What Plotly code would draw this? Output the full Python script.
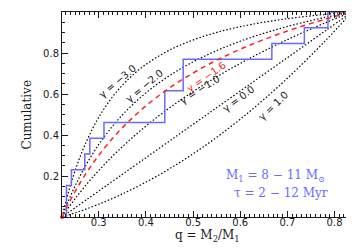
import numpy as np
import plotly.graph_objects as go

# ---- data ----
q_grid = [0.222, 0.235, 0.25, 0.27, 0.30, 0.34, 0.39, 0.45, 0.52, 0.60, 0.69, 0.78, 0.837]
cum_g_m3 = [0, 0.1157, 0.2275, 0.3485, 0.4866, 0.6171, 0.7271, 0.8139, 0.8796, 0.9284, 0.9643, 0.9885, 1]
cum_g_m2 = [0, 0.0753, 0.1524, 0.2420, 0.3539, 0.4723, 0.5863, 0.6896, 0.7800, 0.8574, 0.9231, 0.9736, 1]
cum_g_m1 = [0, 0.0429, 0.0895, 0.1475, 0.2269, 0.3212, 0.4246, 0.5324, 0.6413, 0.7492, 0.8545, 0.9469, 1]
cum_g_0 = [0, 0.0211, 0.0455, 0.0780, 0.1268, 0.1919, 0.2732, 0.3707, 0.4846, 0.6146, 0.7610, 0.9073, 1]
cum_g_p1 = [0, 0.0091, 0.0203, 0.0363, 0.0625, 0.1018, 0.1579, 0.2353, 0.3395, 0.4771, 0.6554, 0.8585, 1]
cum_g_fit = [0, 0.0612, 0.1253, 0.2019, 0.3011, 0.4111, 0.5225, 0.6294, 0.7285, 0.8184, 0.8991, 0.9645, 1]

q_obs = [0.2314, 0.2314, 0.242, 0.2703, 0.281, 0.311, 0.440, 0.440,
         0.479, 0.479, 0.667, 0.736, 0.786]

model_labels = ["γ = −3.0", "γ = −2.0", "γ = −1.0", "γ = 0.0", "γ = 1.0"]
fit_label = "γ = −1.6"
label_q = [0.339, 0.398, 0.514, 0.597, 0.671]
label_c = [0.662, 0.640, 0.624, 0.579, 0.543]
label_ang = [-40, -40, -32, -37, -44]
fit_label_q, fit_label_c, fit_label_ang = 0.529, 0.683, -35

info_lines = ["M<sub>1</sub> = 8 − 11 M<sub>⊙</sub>", "τ = 2 − 12 Myr"]
info_q = [0.6745, 0.6865]
info_c = [0.200, 0.118]

x_range = [0.222, 0.837]
y_range = [0.0, 1.0]

BLUE = "#6a6aff"
RED = "#ff2424"
INK = "#1a1a1a"

fig = go.Figure()

for cum in [cum_g_m3, cum_g_m2, cum_g_m1, cum_g_0, cum_g_p1]:
    fig.add_trace(go.Scatter(x=q_grid, y=cum, mode="lines", line_shape="spline",
                             line=dict(color="#000000", width=1.2, dash="1.5px,2px"),
                             showlegend=False, hoverinfo="skip"))

# observed cumulative step
qs = np.sort(np.array(q_obs))
uq, counts = np.unique(qs, return_counts=True)
cumfrac = np.cumsum(counts) / len(qs)
step_x = [x_range[0]] + list(uq) + [x_range[1]]
step_y = [0.0] + list(cumfrac) + [1.0]
fig.add_trace(go.Scatter(x=step_x, y=step_y, mode="lines", line_shape="hv",
                         line=dict(color=BLUE, width=1.5), showlegend=False,
                         hoverinfo="skip"))

fig.add_trace(go.Scatter(x=q_grid, y=cum_g_fit, mode="lines", line_shape="spline",
                         line=dict(color=RED, width=1.5, dash="5px,4px"),
                         showlegend=False, hoverinfo="skip"))

fig.add_trace(go.Scatter(x=[x_range[0]], y=[y_range[0]], mode="markers",
                         marker=dict(color=RED, size=4), cliponaxis=False,
                         showlegend=False, hoverinfo="skip"))

ann = []
for t, xq, yc, a in zip(model_labels, label_q, label_c, label_ang):
    ann.append(dict(x=xq, y=yc, xref="x", yref="y", text=t, textangle=a,
                    showarrow=False, font=dict(family="DejaVu Sans", size=10, color=INK)))
ann.append(dict(x=fit_label_q, y=fit_label_c, xref="x", yref="y", text=fit_label,
                textangle=fit_label_ang, showarrow=False,
                font=dict(family="DejaVu Sans", size=10, color=RED)))
for t, xq, yc in zip(info_lines, info_q, info_c):
    ann.append(dict(x=xq, y=yc, xref="x", yref="y", text=t, showarrow=False,
                    font=dict(family="DejaVu Serif", size=12, color=BLUE)))
ann.append(dict(x=-0.155, y=0.5, xref="paper", yref="paper", text="Cumulative",
                textangle=-90, showarrow=False,
                font=dict(family="DejaVu Serif", size=12, color=INK)))
ann.append(dict(x=0.503, y=-0.14, xref="paper", yref="paper",
                text="q = M<sub>2</sub>/M<sub>1</sub>", showarrow=False,
                font=dict(family="DejaVu Serif", size=12, color=INK)))

axis_common = dict(showline=True, linecolor=INK, linewidth=1, mirror="allticks",
                   ticks="inside", ticklen=6, tickcolor=INK, showgrid=False,
                   zeroline=False, tickfont=dict(family="DejaVu Sans", size=10, color=INK))

fig.update_layout(
    width=354, height=251,
    margin=dict(l=54, r=10, t=4, b=42),
    plot_bgcolor="white", paper_bgcolor="white",
    annotations=ann,
    xaxis=dict(range=x_range, tickmode="linear", tick0=0, dtick=0.1, tickformat=".1f",
               ticklabelstandoff=-4,
               minor=dict(tickmode="linear", tick0=0, dtick=0.01, ticklen=3,
                          ticks="inside", tickcolor=INK),
               **axis_common),
    yaxis=dict(range=y_range, tickmode="array", tickvals=[0.2, 0.4, 0.6, 0.8],
               ticktext=["0.2", "0.4", "0.6", "0.8"],
               minor=dict(tickmode="linear", tick0=0, dtick=0.05, ticklen=3,
                          ticks="inside", tickcolor=INK),
               **axis_common),
)

fig.write_html("out.html")
